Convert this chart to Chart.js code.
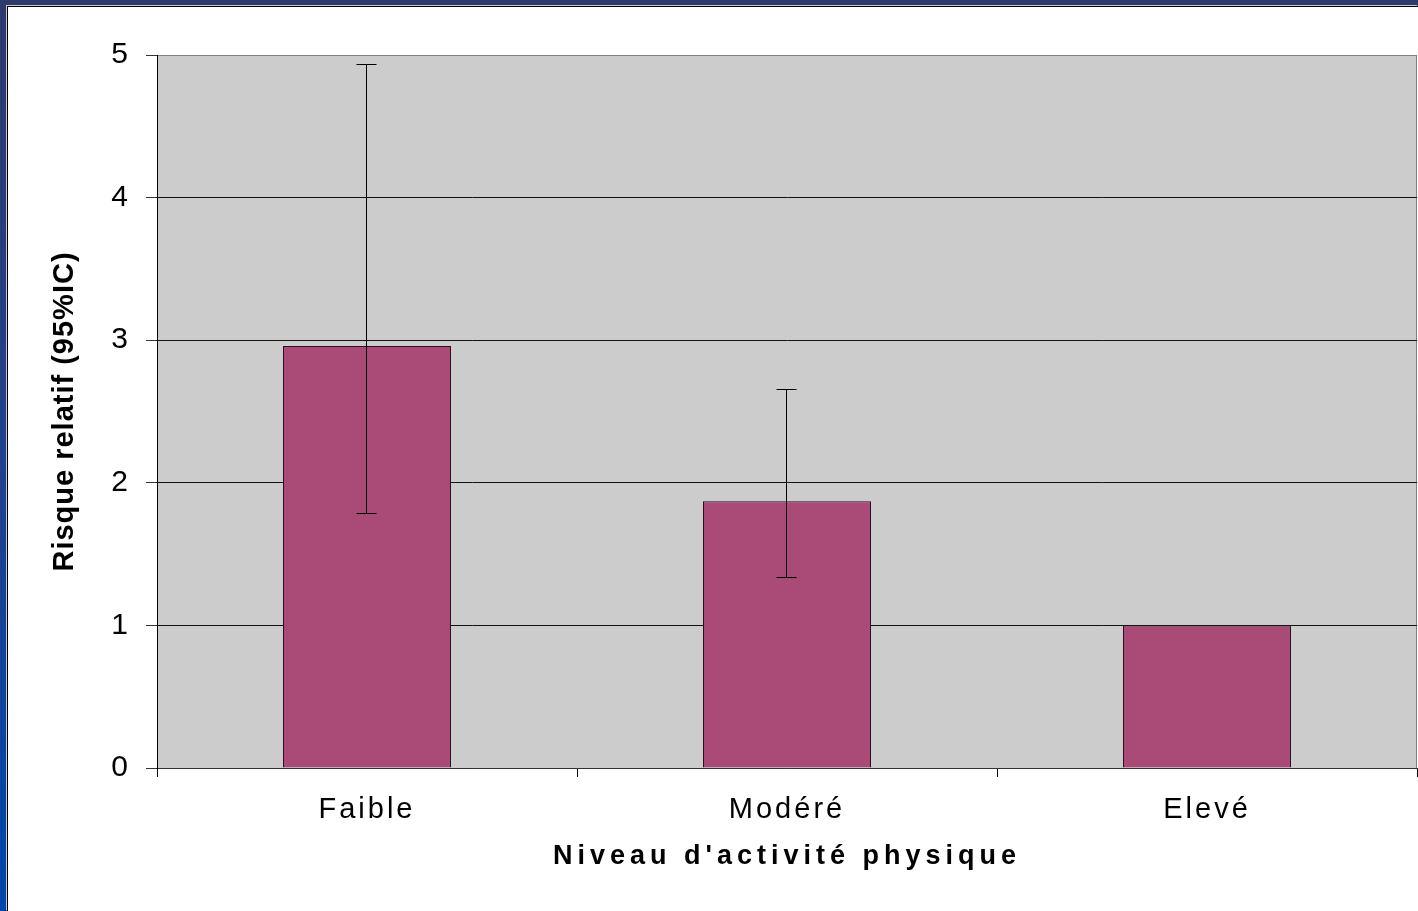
<!DOCTYPE html>
<html>
<head>
<meta charset="utf-8">
<script src="https://cdn.jsdelivr.net/npm/chart.js@4/dist/chart.umd.min.js"></script>
<style>
    html, body { margin: 0; padding: 0; }
    body {
        width: 1418px; height: 911px; overflow: hidden; position: relative;
        background: linear-gradient(to bottom, #2d3a6b 0%, #22408a 45%, #0047ab 100%);
    }
    #panel {
        position: absolute; left: 7px; top: 6px; right: 0; bottom: 0;
        background: #fff;
        border-left: 1px solid #000; border-top: 1px solid #000;
        box-shadow: -1px -1px 0 #c8c8d8;
    }
    #chartRisk { position: absolute; left: 0; top: 0; }
</style>
</head>
<body>
<div id="panel"></div>
<canvas id="chartRisk" width="1418" height="911"></canvas>
<script>
    // data
    const categories = ['Faible', 'Modéré', 'Elevé']
    const risk = [2.96, 1.87, 1.0]
    const ciLow = [1.79, 1.34, null]
    const ciHigh = [4.94, 2.66, null]
    const yMin = 0
    const yMax = 5
    const yStep = 1

    const fontFamily = "'Liberation Sans', Arial, sans-serif"

    // grey plot area with grey top / right edges
    const plotArea = {
        id: 'plotArea',
        beforeDraw(chart) {
            const { ctx, chartArea: a } = chart
            ctx.save()
            ctx.fillStyle = '#cccccc'
            ctx.fillRect(a.left, a.top, a.right - a.left, a.bottom - a.top)
            ctx.strokeStyle = '#808080'
            ctx.lineWidth = 1
            ctx.beginPath()
            ctx.moveTo(a.left, a.top + 0.5)
            ctx.lineTo(a.right - 0.5, a.top + 0.5)
            ctx.lineTo(a.right - 0.5, a.bottom)
            ctx.stroke()
            ctx.restore()
        }
    }

    // 95% CI whiskers
    const errorBars = {
        id: 'errorBars',
        afterDatasetsDraw(chart) {
            const ctx = chart.ctx
            const y = chart.scales.y
            const bars = chart.getDatasetMeta(0).data
            ctx.save()
            ctx.strokeStyle = '#000'
            ctx.lineWidth = 1
            bars.forEach((bar, i) => {
                if (ciLow[i] == null || ciHigh[i] == null) return
                const x = Math.round(bar.x) - 0.5
                const yLo = Math.round(y.getPixelForValue(ciLow[i])) + 0.5
                const yHi = Math.round(y.getPixelForValue(ciHigh[i])) + 0.5
                ctx.beginPath()
                ctx.moveTo(x, yHi); ctx.lineTo(x, yLo)
                ctx.moveTo(x - 10, yHi); ctx.lineTo(x + 10, yHi)
                ctx.moveTo(x - 10, yLo); ctx.lineTo(x + 10, yLo)
                ctx.stroke()
            })
            ctx.restore()
        }
    }

    // wide lettering like the original slide
    const letterSpacing = {
        id: 'letterSpacing',
        afterUpdate(chart) {
            const wrap = (scale, name, sp) => {
                const orig = scale[name]
                scale[name] = function (...args) {
                    const old = this.ctx.letterSpacing
                    this.ctx.letterSpacing = sp
                    orig.apply(this, args)
                    this.ctx.letterSpacing = old || '0px'
                }
            }
            const { x, y } = chart.scales
            if (!x._spaced) {
                x._spaced = true
                wrap(x, 'drawLabels', '3px')
                wrap(x, 'drawTitle', '5px')
            }
            if (!y._spaced) {
                y._spaced = true
                wrap(y, 'drawTitle', '1px')
            }
        }
    }

    new Chart(document.getElementById('chartRisk'), {
        type: 'bar',
        data: {
            labels: categories,
            datasets: [{
                label: 'Risque relatif',
                data: risk,
                backgroundColor: '#a94a77',
                borderColor: '#2a0f1f',
                borderWidth: 1,
                categoryPercentage: 1.0,
                barPercentage: 0.4
            }]
        },
        options: {
            responsive: false,
            animation: false,
            layout: { padding: { left: 0, top: 55, right: 1, bottom: 0 } },
            plugins: {
                legend: { display: false },
                tooltip: { enabled: false }
            },
            scales: {
                x: {
                    afterFit: s => { s.height = 143 },
                    grid: { drawOnChartArea: false, tickLength: 9, color: '#000', tickColor: '#000' },
                    border: { color: '#333', width: 1 },
                    ticks: { padding: 16, color: '#000', font: { family: fontFamily, size: 29 } },
                    title: {
                        display: true,
                        text: "Niveau d'activité physique",
                        color: '#000',
                        font: { family: fontFamily, size: 27, weight: 'bold' },
                        padding: { top: 0, bottom: 38 }
                    }
                },
                y: {
                    min: yMin,
                    max: yMax,
                    afterFit: s => { s.width = 157 },
                    grid: {
                        tickLength: 11,
                        color: c => (c.tick && c.tick.value === yMax) ? '#808080' : '#111',
                        tickColor: '#333'
                    },
                    border: { color: '#000', width: 1 },
                    ticks: { stepSize: yStep, padding: 18, color: '#000', font: { family: fontFamily, size: 30 } },
                    title: {
                        display: true,
                        text: 'Risque relatif (95%IC)',
                        color: '#000',
                        font: { family: fontFamily, size: 29, weight: 'bold' },
                        padding: { top: 48, bottom: 0 }
                    }
                }
            }
        },
        plugins: [plotArea, errorBars, letterSpacing]
    })
</script>
</body>
</html>
